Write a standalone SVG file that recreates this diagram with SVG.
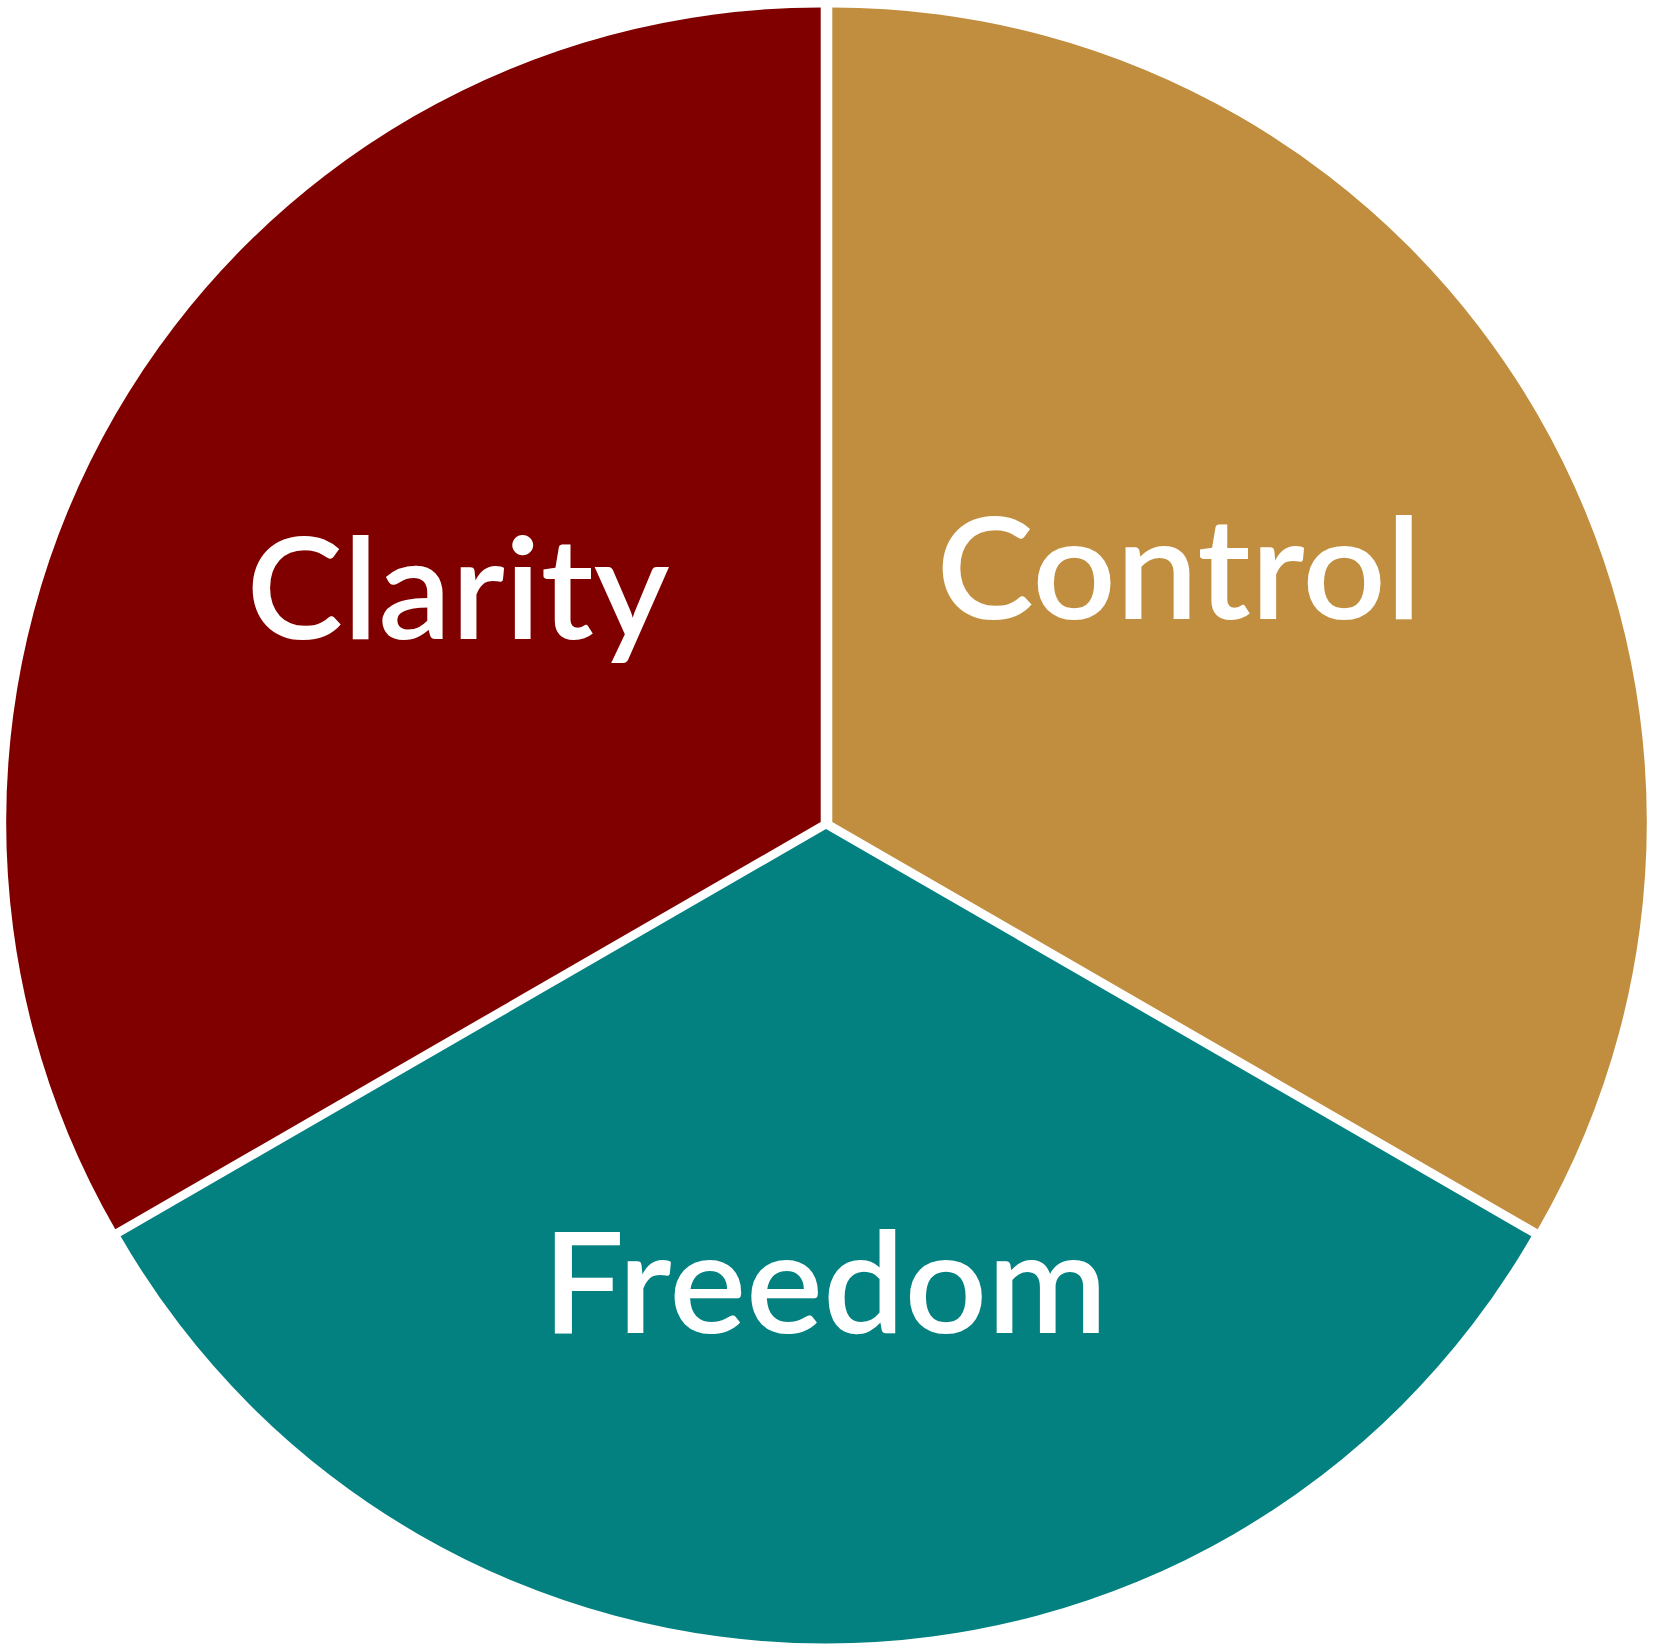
<svg xmlns="http://www.w3.org/2000/svg" width="1654" height="1650" viewBox="0 0 1654 1650">
  <style>
    .lbl { font-family: Lato, "Noto Sans", "Liberation Sans", sans-serif; font-size: 140px; font-weight: 600; fill: #ffffff; text-anchor: middle; }
  </style>
  <rect width="1654" height="1650" fill="#ffffff"/>
  <g id="clarity">
    <path d="M 820.7 822 L 820.7 7.5 A 814.5 814.5 0 0 0 115.3 1229.25 Z" fill="#800000"/>
    <text class="lbl" x="458" y="639" textLength="423" lengthAdjust="spacingAndGlyphs">Clarity</text>
  </g>
  <g id="control">
    <path d="M 832.3 822 L 832.3 7.5 A 814.5 814.5 0 0 1 1537.7 1229.25 Z" fill="#C08E3E"/>
    <text class="lbl" x="1179" y="619" textLength="485" lengthAdjust="spacingAndGlyphs">Control</text>
  </g>
  <g id="freedom">
    <path d="M 826 829 L 1531.4 1236.25 A 814.5 814.5 0 0 1 120.6 1236.25 Z" fill="#038080"/>
    <text class="lbl" x="825" y="1333" textLength="565" lengthAdjust="spacingAndGlyphs">Freedom</text>
  </g>
  <g id="connectors"/>
</svg>
